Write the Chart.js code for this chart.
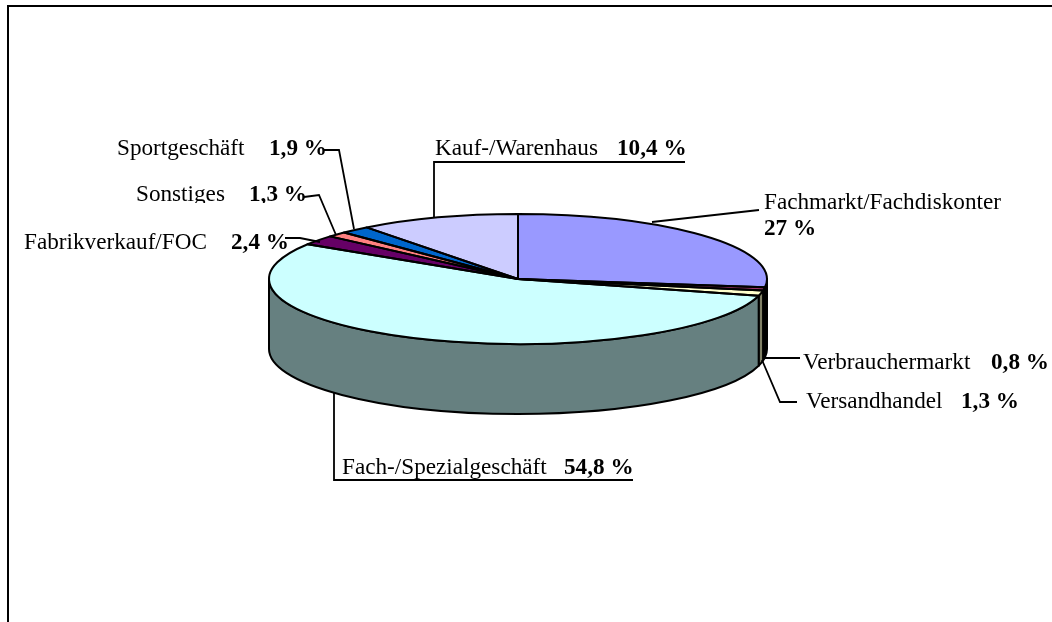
<!DOCTYPE html>
<html>
<head>
<meta charset="utf-8">
<style>
html, body { margin: 0; padding: 0; background: #fff; overflow: hidden; }
canvas { display: block; }
</style>
<script src="https://cdn.jsdelivr.net/npm/chart.js@4"></script>
</head>
<body>
<canvas id="pieChart" width="1052" height="622"></canvas>
<script>
// Data, clockwise from 12 o'clock
var categories = ["Fachmarkt/Fachdiskonter", "Verbrauchermarkt", "Versandhandel", "Fach-/Spezialgeschäft", "Fabrikverkauf/FOC", "Sonstiges", "Sportgeschäft", "Kauf-/Warenhaus"];
var shares = [27, 0.8, 1.3, 54.8, 2.4, 1.3, 1.9, 10.4];
var topColors = ["#9999FF", "#993366", "#FFFFCC", "#CCFFFF", "#660066", "#FF8080", "#0066CC", "#CCCCFF"];
var sideColors = ["#4D4D80", "#4D1A33", "#808066", "#668080", "#330033", "#804040", "#003366", "#666680"];

// Label placement, same order as categories
var labelSpots = [
	{ x: 764, y: 209, vx: 764, vy: 235, line: [[652, 222], [759, 210]] },
	{ x: 803, y: 369, vx: 991, vy: 369, line: [[765, 358], [800, 358]] },
	{ x: 806, y: 408, vx: 961, vy: 408, line: [[762, 360], [780, 402], [797, 402]] },
	{ x: 342, y: 474, vx: 564, vy: 474, line: [[334, 393], [334, 480], [633, 480]] },
	{ x: 24, y: 249, vx: 231, vy: 249, line: [[285, 238], [300, 238], [320, 242]] },
	{ x: 136, y: 201, vx: 249, vy: 201, line: [[304, 197], [319, 195], [336, 235]], cutY: 203 },
	{ x: 117, y: 155, vx: 269, vy: 155, line: [[324, 150], [339, 150], [354, 229]] },
	{ x: 435, y: 155, vx: 617, vy: 155, line: [[434, 218], [434, 162], [685, 162]] }
];

// Tilt of the pie
var squash = 65 / 249;
var depth = 70;
var edgeWidth = 2;

function wedgePath(ctx, a) {
	var ry = a.outerRadius * squash;
	ctx.beginPath();
	ctx.moveTo(a.x, a.y);
	ctx.ellipse(a.x, a.y, a.outerRadius, ry, 0, a.startAngle, a.endAngle);
	ctx.closePath();
}

// Draws the wall below the front half of the pie
function drawWalls(ctx, arcs) {
	arcs.forEach(function (a, i) {
		var from = Math.max(a.startAngle, 0);
		var to = Math.min(a.endAngle, Math.PI);
		if (to <= from) return;
		var ry = a.outerRadius * squash;
		ctx.beginPath();
		ctx.ellipse(a.x, a.y, a.outerRadius, ry, 0, from, to);
		ctx.ellipse(a.x, a.y + depth, a.outerRadius, ry, 0, to, from, true);
		ctx.closePath();
		ctx.fillStyle = sideColors[i];
		ctx.fill();
		ctx.stroke();
	});
}

var tiltPlugin = {
	id: "tilt",
	beforeDraw: function (chart) {
		var ctx = chart.ctx;
		ctx.save();
		ctx.fillStyle = "#000";
		ctx.fillRect(7, 5, 1045, 2);
		ctx.fillRect(7, 5, 2, 617);
		ctx.restore();
	},
	beforeDatasetsDraw: function (chart) {
		var ctx = chart.ctx;
		var arcs = chart.getDatasetMeta(0).data;
		ctx.save();
		ctx.strokeStyle = "#000";
		ctx.lineWidth = edgeWidth;
		ctx.lineJoin = "round";
		drawWalls(ctx, arcs);
		ctx.restore();

		// library fills the slices, flattened around the pie centre
		ctx.save();
		ctx.translate(arcs[0].x, arcs[0].y);
		ctx.scale(1, squash);
		ctx.translate(-arcs[0].x, -arcs[0].y);
	},
	afterDatasetsDraw: function (chart) {
		var ctx = chart.ctx;
		ctx.restore();
		ctx.save();
		ctx.strokeStyle = "#000";
		ctx.lineWidth = edgeWidth;
		ctx.lineJoin = "round";
		chart.getDatasetMeta(0).data.forEach(function (a) {
			wedgePath(ctx, a);
			ctx.stroke();
		});
		ctx.restore();
	},
	afterDraw: function (chart) {
		var ctx = chart.ctx;
		ctx.save();
		ctx.fillStyle = "#000";
		ctx.strokeStyle = "#000";
		ctx.lineWidth = 1.8;
		ctx.textBaseline = "alphabetic";
		categories.forEach(function (name, i) {
			var s = labelSpots[i];
			ctx.beginPath();
			s.line.forEach(function (p, k) {
				if (k === 0) ctx.moveTo(p[0], p[1]);
				else ctx.lineTo(p[0], p[1]);
			});
			ctx.stroke();

			ctx.save();
			if (s.cutY) {
				ctx.beginPath();
				ctx.rect(0, 0, 1052, s.cutY);
				ctx.clip();
			}
			ctx.font = "23.2px 'Liberation Serif'";
			ctx.fillText(name, s.x, s.y);
			ctx.font = "bold 23.2px 'Liberation Serif'";
			ctx.fillText(String(shares[i]).replace(".", ",") + " %", s.vx, s.vy);
			ctx.restore();
		});
		ctx.restore();
	}
};

var chart = new Chart(document.getElementById("pieChart").getContext("2d"), {
	type: "pie",
	data: {
		labels: categories,
		datasets: [{
			data: shares,
			backgroundColor: topColors,
			borderWidth: 0,
			clip: false
		}]
	},
	options: {
		responsive: false,
		animation: false,
		layout: { padding: { left: 269, right: 285, top: 30, bottom: 94 } },
		plugins: {
			legend: { display: false },
			tooltip: { enabled: false }
		}
	},
	plugins: [tiltPlugin]
});
</script>
</body>
</html>
